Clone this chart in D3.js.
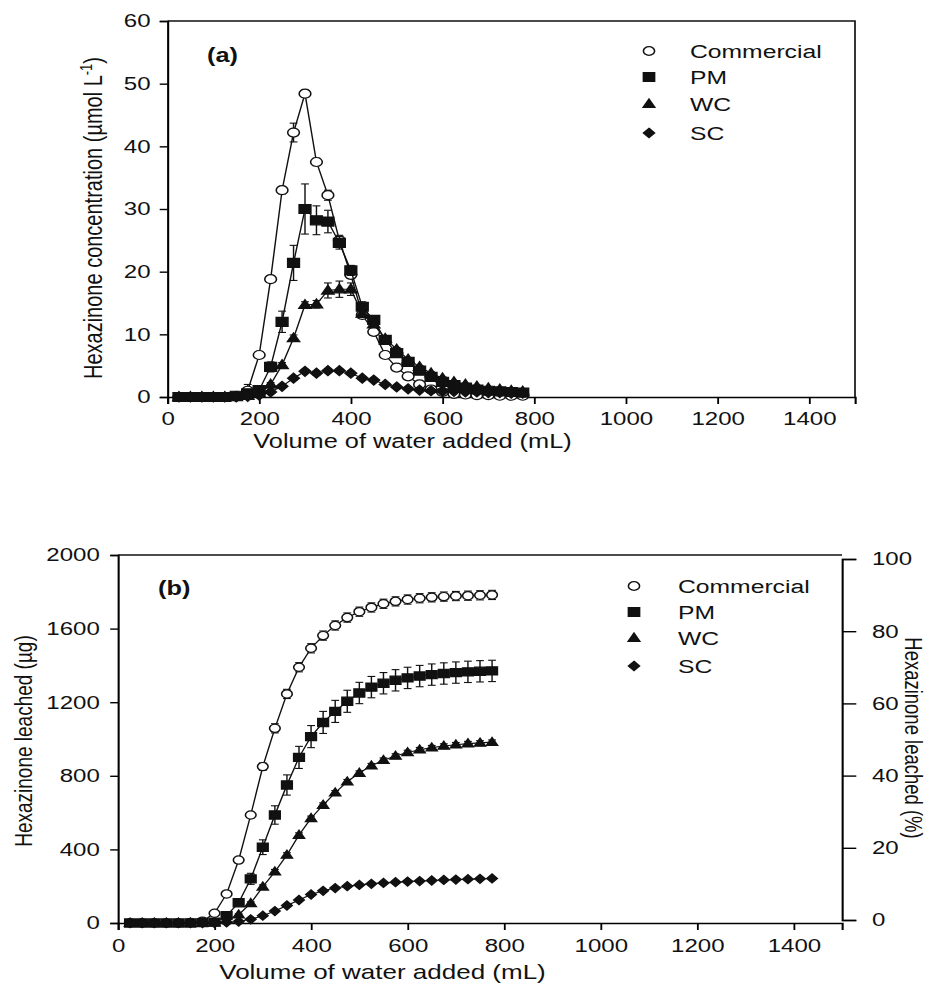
<!DOCTYPE html>
<html>
<head>
<meta charset="utf-8">
<script src="https://cdn.jsdelivr.net/npm/d3@7"></script>
<style>
  body { margin: 0; background: #fff; }
  text { font-family: "Liberation Sans", Arial, sans-serif; fill: #111; }
</style>
</head>
<body>
<div id="chart"></div>
<script>
// Data
const volumes = [25, 50, 75, 100, 125, 150, 175, 200, 225, 250, 275, 300, 325, 350, 375, 400,
                 425, 450, 475, 500, 525, 550, 575, 600, 625, 650, 675, 700, 725, 750, 775];
const seriesNames = ["Commercial", "PM", "WC", "SC"];

// (a) concentration, umol/L
const concCommercial = [0, 0, 0, 0, 0, 0.1, 1.0, 6.7, 18.8, 33.0, 42.2, 48.4, 37.5, 32.2, 25.0, 19.5,
                        13.1, 10.4, 6.7, 4.7, 3.3, 2.0, 1.2, 0.8, 0.5, 0.4, 0.3, 0.3, 0.2, 0.2, 0.2];
const concPM = [0, 0, 0, 0, 0, 0.2, 0.6, 1.1, 4.8, 12.0, 21.4, 30.0, 28.2, 28.0, 24.6, 20.2,
                14.4, 12.3, 9.1, 7.0, 5.6, 4.2, 3.2, 2.4, 1.9, 1.5, 1.2, 1.0, 0.9, 0.8, 0.7];
const concWC = [0, 0, 0, 0, 0, 0, 0.2, 0.6, 2.0, 5.1, 9.4, 14.7, 14.8, 17.0, 17.2, 17.2,
                13.3, 11.6, 9.3, 7.6, 6.0, 4.8, 3.8, 3.0, 2.4, 2.0, 1.7, 1.4, 1.2, 1.0, 0.9];
const concSC = [0, 0, 0, 0, 0, 0, 0.1, 0.3, 0.8, 1.7, 3.0, 4.1, 3.8, 4.2, 4.2, 3.8,
                3.0, 2.7, 2.0, 1.6, 1.3, 1.1, 1.0, 0.9, 0.9, 0.8, 0.8, 0.7, 0.7, 0.6, 0.6];
const concErrCommercial = [0, 0, 0, 0, 0, 0.3, 1.0, 0.5, 0.5, 0.6, 1.5, 0.6, 0.6, 0.8, 0.8, 0.6,
                           0.5, 0.4, 0.4, 0.3, 0.3, 0.2, 0.2, 0.2, 0.1, 0.1, 0.1, 0.1, 0.1, 0.1, 0.1];
const concErrPM = [0, 0, 0, 0, 0, 0.5, 0.5, 0.4, 0.8, 1.7, 2.8, 4.0, 2.3, 1.8, 1.0, 0.8,
                   0.8, 0.6, 0.5, 0.5, 0.4, 0.3, 0.3, 0.3, 0.2, 0.2, 0.2, 0.2, 0.1, 0.1, 0.1];
const concErrWC = [0, 0, 0, 0, 0, 0, 0.1, 0.2, 0.3, 0.4, 0.5, 0.5, 0.6, 1.2, 1.3, 1.0,
                   0.6, 0.4, 0.4, 0.3, 0.3, 0.2, 0.2, 0.2, 0.1, 0.1, 0.1, 0.1, 0.1, 0.1, 0.1];
const concErrSC = [0, 0, 0, 0, 0, 0, 0.1, 0.1, 0.2, 0.2, 0.3, 0.3, 0.3, 0.3, 0.3, 0.3,
                   0.2, 0.2, 0.2, 0.1, 0.1, 0.1, 0.1, 0.1, 0.1, 0.1, 0.1, 0.1, 0.1, 0.1, 0.1];

// (b) cumulative leached, ug
const leachCommercial = [0, 0, 0, 0, 0, 3, 10, 53, 158, 342, 587, 850, 1058, 1245, 1390, 1493,
                         1562, 1617, 1660, 1692, 1715, 1735, 1748, 1758, 1765, 1770, 1774, 1777, 1779, 1781, 1783];
const leachPM = [0, 0, 0, 0, 0, 0, 2, 5, 40, 110, 240, 412, 587, 750, 900, 1013,
                 1090, 1150, 1205, 1250, 1282, 1303, 1319, 1332, 1342, 1350, 1356, 1361, 1365, 1368, 1370];
const leachWC = [0, 0, 0, 0, 0, 0, 0, 2, 15, 45, 107, 197, 279, 370, 478, 569,
                 641, 708, 768, 815, 855, 885, 908, 927, 942, 953, 962, 969, 975, 979, 983];
const leachSC = [0, 0, 0, 0, 0, 0, 0, 0, 3, 8, 20, 40, 65, 95, 125, 155,
                 175, 190, 200, 207, 213, 218, 222, 225, 228, 231, 234, 236, 238, 240, 242];
const leachErrCommercial = [0, 0, 0, 0, 0, 0, 3, 6, 8, 10, 15, 20, 25, 25, 25, 25,
                            25, 25, 25, 25, 25, 25, 25, 25, 25, 25, 25, 25, 25, 25, 25];
const leachErrPM = [0, 0, 0, 0, 0, 0, 0, 3, 8, 15, 30, 40, 50, 55, 60, 60,
                    60, 60, 60, 58, 58, 58, 58, 58, 58, 58, 58, 58, 58, 58, 58];
const leachErrWC = [0, 0, 0, 0, 0, 0, 0, 0, 3, 5, 8, 10, 12, 12, 12, 12,
                    12, 12, 12, 12, 12, 12, 12, 12, 12, 12, 12, 12, 12, 12, 12];
const leachErrSC = [0, 0, 0, 0, 0, 0, 0, 0, 0, 2, 3, 4, 5, 5, 5, 5,
                    5, 5, 5, 5, 5, 5, 5, 5, 5, 5, 5, 5, 5, 5, 5];

// Tick labels
const xTicks = [0, 200, 400, 600, 800, 1000, 1200, 1400];
const concTicks = [0, 10, 20, 30, 40, 50, 60];
const leachTicks = [0, 400, 800, 1200, 1600, 2000];
const pctTicks = [0, 20, 40, 60, 80, 100];

// the scanned figure is stretched horizontally, so draw in a narrower frame and scale x
const SX = 1.3;
const vx = px => px / SX;
const symbols = ["circle", "square", "triangle", "diamond"];
const fmt = d3.format("d");

function symbolPath(type, s) {
    if (type === "circle") return d3.symbol(d3.symbolCircle, Math.PI * s * s)();
    if (type === "square") return `M${-s},${-s}H${s}V${s}H${-s}Z`;
    if (type === "triangle") return `M0,${-s * 1.15}L${s * 1.05},${s * 0.8}L${-s * 1.05},${s * 0.8}Z`;
    return `M0,${-s * 1.1}L${s},0L0,${s * 1.1}L${-s},0Z`;
}

function styleAxis(g) {
    g.attr("font-family", "Liberation Sans, Arial, sans-serif").attr("font-size", 18.5);
    g.select(".domain").attr("stroke-width", 1.6);
    g.selectAll(".tick line").attr("stroke-width", 1.4);
    g.selectAll(".tick text").attr("fill", "#111");
}

function drawSeries(g, x, y, values, errors, type, size, capW) {
    const pts = volumes.map((v, i) => ({ v: v, val: values[i], err: errors[i] }));
    g.append("path")
        .datum(pts)
        .attr("fill", "none")
        .attr("stroke", "#111")
        .attr("stroke-width", 1.1)
        .attr("d", d3.line().x(d => x(d.v)).y(d => y(d.val)));

    const eb = g.append("g").attr("stroke", "#111").attr("stroke-width", 1.1);
    pts.filter(d => d.err > 0).forEach(d => {
        const lo = y(d.val - d.err), hi = y(d.val + d.err), cx = x(d.v);
        eb.append("line").attr("x1", cx).attr("x2", cx).attr("y1", lo).attr("y2", hi);
        eb.append("line").attr("x1", cx - capW).attr("x2", cx + capW).attr("y1", lo).attr("y2", lo);
        eb.append("line").attr("x1", cx - capW).attr("x2", cx + capW).attr("y1", hi).attr("y2", hi);
    });

    g.append("g").selectAll("path")
        .data(pts)
        .enter().append("path")
        .attr("transform", d => `translate(${x(d.v)},${y(d.val)})`)
        .attr("d", symbolPath(type, size))
        .attr("fill", type === "circle" ? "#fff" : "#111")
        .attr("stroke", "#111")
        .attr("stroke-width", 1.2);
}

function drawLegend(g, lx, tx, rows, baselines) {
    seriesNames.forEach((name, i) => {
        g.append("path")
            .attr("transform", `translate(${lx},${rows[i]})`)
            .attr("d", symbolPath(symbols[i], 4.3))
            .attr("fill", symbols[i] === "circle" ? "#fff" : "#111")
            .attr("stroke", "#111")
            .attr("stroke-width", 1.2);
        g.append("text")
            .attr("x", tx)
            .attr("y", baselines[i])
            .attr("font-size", 19)
            .text(name);
    });
}

function createChart() {
    const svg = d3.select("#chart").append("svg")
        .attr("width", 930)
        .attr("height", 993);
    const root = svg.append("g").attr("transform", `scale(${SX},1)`);

    // ---------- panel (a)
    const xA = d3.scaleLinear().domain([0, 1500]).range([vx(167.5), vx(855)]);
    const yA = d3.scaleLinear().domain([0, 60]).range([397, 21]);
    const a = root.append("g");

    a.append("path")
        .attr("d", `M${xA(0)},${yA(60)}H${xA(1500)}V${yA(0)}`)
        .attr("fill", "none").attr("stroke", "#111").attr("stroke-width", 1.3);

    a.append("g")
        .attr("transform", `translate(0,${yA(0)})`)
        .call(d3.axisBottom(xA).tickValues(xTicks).tickFormat(fmt).tickSizeOuter(0).tickSize(7).tickPadding(8))
        .call(styleAxis);
    a.append("g")
        .attr("transform", `translate(${xA(0)},0)`)
        .call(d3.axisLeft(yA).tickValues(concTicks).tickFormat(fmt).tickSizeOuter(0).tickSize(6).tickPadding(7))
        .call(styleAxis);

    const concSeries = [concCommercial, concPM, concWC, concSC];
    const concErrs = [concErrCommercial, concErrPM, concErrWC, concErrSC];
    concSeries.forEach((s, i) => drawSeries(a, xA, yA, s, concErrs[i], symbols[i], 4.5, 3));

    a.append("text").attr("x", vx(207)).attr("y", 62)
        .attr("font-size", 19.5).attr("font-weight", "bold").text("(a)");
    drawLegend(a, vx(649), vx(690), [51, 77, 104, 133], [58, 84, 111, 140]);

    const yLabA = a.append("text")
        .attr("transform", `translate(${vx(102)},218) rotate(-90)`)
        .attr("text-anchor", "middle")
        .attr("font-size", 20)
        .text("Hexazinone concentration (µmol L");
    yLabA.append("tspan").attr("font-size", 13).attr("dy", -8).text("-1");
    yLabA.append("tspan").attr("dy", 8).text(")");

    a.append("text").attr("x", vx(412.5)).attr("y", 448)
        .attr("text-anchor", "middle").attr("font-size", 19.5)
        .text("Volume of water added (mL)");

    // ---------- panel (b)
    const xB = d3.scaleLinear().domain([0, 1500]).range([vx(118), vx(842)]);
    const yB = d3.scaleLinear().domain([0, 2000]).range([923, 555]);
    const yPct = d3.scaleLinear().domain([0, 100]).range([920, 559]);
    const b = root.append("g");

    b.append("path")
        .attr("d", `M${xB(0)},${yB(2000)}H${xB(1500)}`)
        .attr("fill", "none").attr("stroke", "#111").attr("stroke-width", 1.3);

    b.append("g")
        .attr("transform", `translate(0,${yB(0)})`)
        .call(d3.axisBottom(xB).tickValues(xTicks).tickFormat(fmt).tickSizeOuter(0).tickSize(7).tickPadding(9))
        .call(styleAxis);
    b.append("g")
        .attr("transform", `translate(${xB(0)},0)`)
        .call(d3.axisLeft(yB).tickValues(leachTicks).tickFormat(fmt).tickSizeOuter(0).tickSize(6).tickPadding(8))
        .call(styleAxis);
    b.append("g")
        .attr("transform", `translate(${xB(1500)},0)`)
        .call(d3.axisRight(yPct).tickValues(pctTicks).tickFormat(fmt).tickSizeOuter(0).tickSize(11).tickPadding(12))
        .call(styleAxis);

    const leachSeries = [leachCommercial, leachPM, leachWC, leachSC];
    const leachErrs = [leachErrCommercial, leachErrPM, leachErrWC, leachErrSC];
    leachSeries.forEach((s, i) => drawSeries(b, xB, yB, s, leachErrs[i], symbols[i], 4.1, 3));

    b.append("text").attr("x", vx(158)).attr("y", 595)
        .attr("font-size", 19.5).attr("font-weight", "bold").text("(b)");
    drawLegend(b, vx(634), vx(678), [586, 612, 638, 666], [593, 619, 645, 673]);

    b.append("text")
        .attr("transform", `translate(${vx(31.5)},741) rotate(-90)`)
        .attr("text-anchor", "middle")
        .attr("font-size", 19)
        .text("Hexazinone leached (µg)");
    b.append("text")
        .attr("transform", `translate(${vx(905)},738) rotate(90)`)
        .attr("text-anchor", "middle")
        .attr("font-size", 18.5)
        .text("Hexazinone leached (%)");

    b.append("text").attr("x", vx(382.5)).attr("y", 979)
        .attr("text-anchor", "middle").attr("font-size", 20)
        .text("Volume of water added (mL)");
}

createChart();
</script>
</body>
</html>
